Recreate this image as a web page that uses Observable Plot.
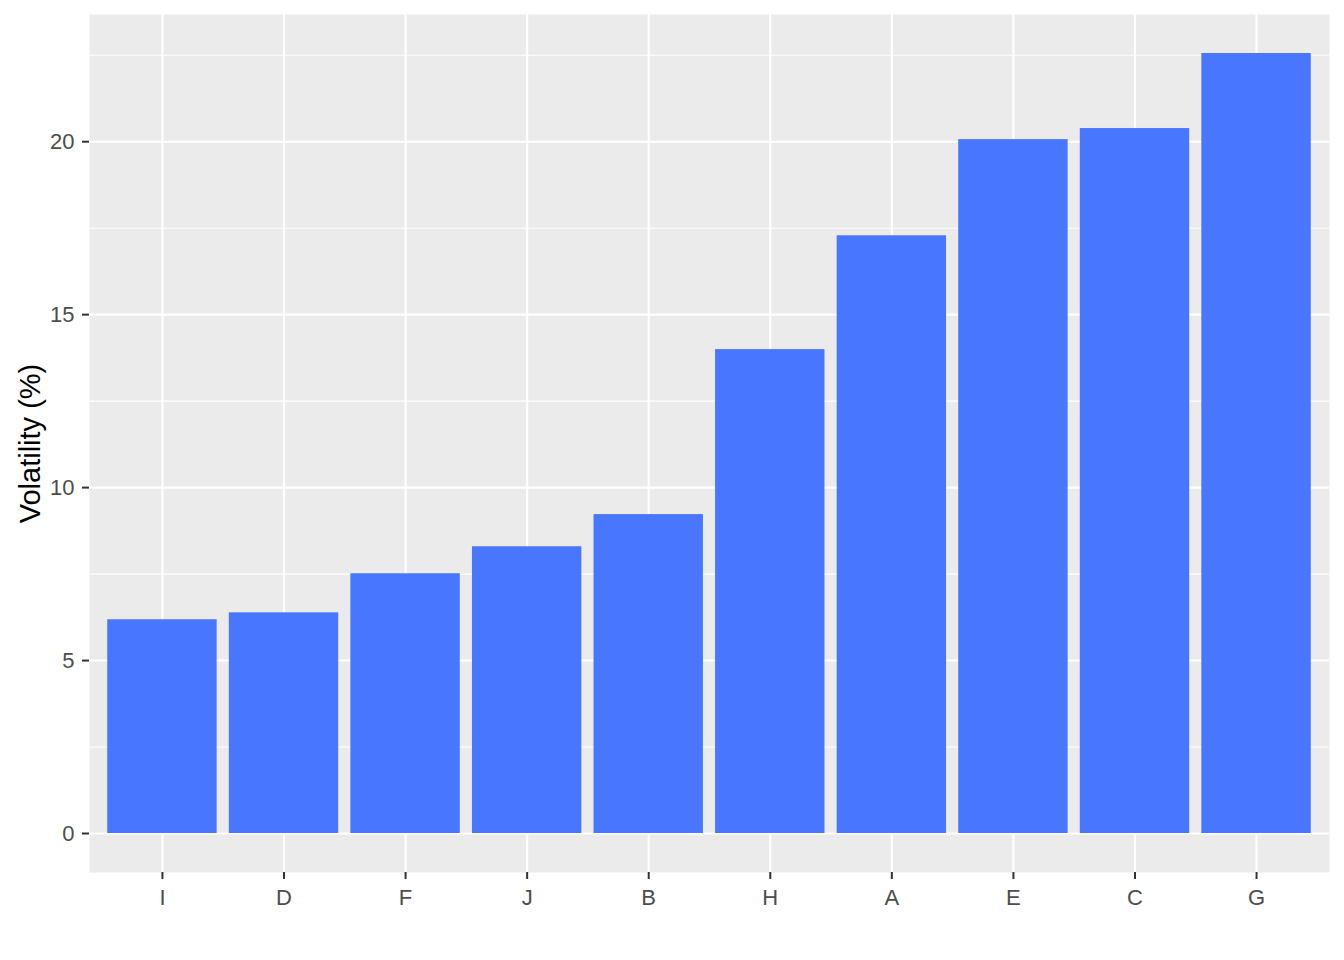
<!DOCTYPE html>
<html>
<head>
<meta charset="utf-8">
<script src="https://cdn.jsdelivr.net/npm/d3@7"></script>
<script src="https://cdn.jsdelivr.net/npm/@observablehq/plot@0.6"></script>
<style>
  html, body { margin: 0; padding: 0; background: #ffffff; }
  #chart svg { display: block; }
</style>
</head>
<body>
<div id="chart"></div>
<script>
const categories = ["I", "D", "F", "J", "B", "H", "A", "E", "C", "G"];
const volatility = [6.18, 6.38, 7.51, 8.29, 9.22, 13.99, 17.28, 20.06, 20.38, 22.55];
const majorTicks = [0, 5, 10, 15, 20];
const minorTicks = [2.5, 7.5, 12.5, 17.5, 22.5];
const yTitle = "Volatility (%)";

const data = categories.map((c, i) => ({ cat: c, v: volatility[i] }));
const vmax = d3.max(volatility);
const yDomain = [0 - 0.05 * vmax, vmax * 1.05];

const font = "'Liberation Sans', Arial, sans-serif";

const chart = Plot.plot({
  width: 1344,
  height: 960,
  marginLeft: 89,
  marginRight: 15,
  marginTop: 14,
  marginBottom: 88,
  style: { background: "#ffffff", fontFamily: font, fontSize: "22px" },
  x: { domain: categories, paddingInner: 0.1, paddingOuter: 0.15, round: false, label: null },
  y: { domain: yDomain, label: null },
  marks: [
    Plot.frame({ fill: "#EBEBEB", stroke: null }),
    Plot.ruleY(minorTicks, { stroke: "#ffffff", strokeWidth: 1.1 }),
    Plot.ruleY(majorTicks, { stroke: "#ffffff", strokeWidth: 2.1 }),
    Plot.ruleX(categories, { stroke: "#ffffff", strokeWidth: 2.1 }),
    Plot.barY(data, { x: "cat", y: "v", fill: "#4876FF" }),
    Plot.axisY({ ticks: majorTicks, tickSize: 7, strokeWidth: 2, stroke: "#333333", text: null, label: null }),
    Plot.axisY({ ticks: majorTicks, tickSize: 0, tickPadding: 15, fill: "#4D4D4D", fontSize: 22, label: null }),
    Plot.axisX({ tickSize: 7, strokeWidth: 2, stroke: "#333333", text: null, label: null }),
    Plot.axisX({ tickSize: 0, tickPadding: 17, fill: "#4D4D4D", fontSize: 22, label: null }),
    Plot.text([yTitle], { frameAnchor: "left", textAnchor: "middle", dx: -59, rotate: -90, fontSize: 29, fill: "#000000" })
  ]
});

document.getElementById("chart").appendChild(chart);
</script>
</body>
</html>
